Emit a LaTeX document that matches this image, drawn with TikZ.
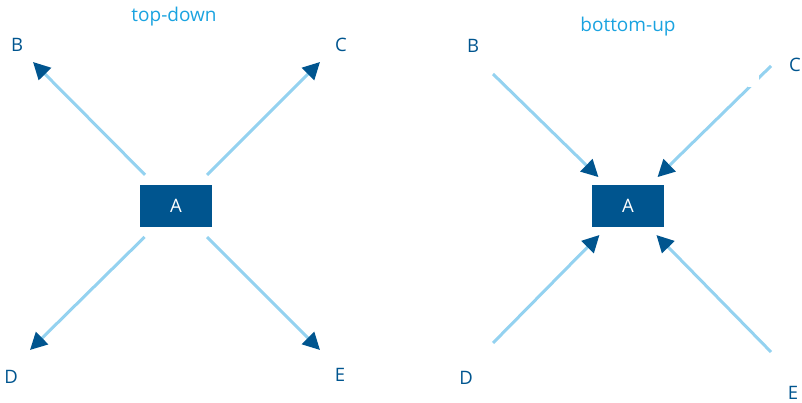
\documentclass[tikz,border=0pt]{standalone}
\usepackage{fontspec}
\setmainfont{Open Sans}
\usetikzlibrary{arrows.meta}
\definecolor{dblue}{HTML}{00558F}
\definecolor{lblue}{HTML}{94D2F0}
\definecolor{cyan2}{HTML}{1AA3E0}
\begin{document}
\begin{tikzpicture}[x=1pt,y=1pt,
  lab/.style={text=dblue,font=\fontsize{18.5}{22}\selectfont,inner sep=0pt},
  ttl/.style={text=cyan2,font=\fontsize{19}{22}\selectfont,inner sep=0pt},
  box/.style={fill=dblue,text=white,minimum width=72pt,minimum height=42pt,inner sep=0pt,font=\fontsize{18.5}{22}\selectfont},
  arr/.style={draw=lblue,line width=3pt,-{Triangle[length=17pt,width=17pt,color=dblue]}}]
\useasboundingbox (0,0) rectangle (802,403);
% left panel
\node[ttl] (t1) at (174,386) {top-down};
\node[box] (A1) at (176,197) {A};
\node[lab] (B1) at (17,358) {B};
\node[lab] (C1) at (341,358) {C};
\node[lab] (D1) at (11,26) {D};
\node[lab] (E1) at (340,28) {E};
\coordinate (tB) at (33,341);
\coordinate (tC) at (320,341);
\coordinate (tD) at (30,53);
\coordinate (tE) at (320,53);
\draw[arr,shorten <=14pt] (A1) -- (tB);
\draw[arr,shorten <=14pt] (A1) -- (tC);
\draw[arr,shorten <=14pt] (A1) -- (tD);
\draw[arr,shorten <=14pt] (A1) -- (tE);
% right panel
\node[ttl] (t2) at (628,376) {bottom-up};
\node[box] (A2) at (628,197) {A};
\node[lab] (B2) at (473,357) {B};
\node[lab] (C2) at (795,338) {C};
\node[lab] (D2) at (466,25) {D};
\node[lab] (E2) at (793,10) {E};
\coordinate (sB) at (493,329);
\coordinate (sC) at (771,337);
\coordinate (sD) at (493,60);
\coordinate (sE) at (771,51);
\draw[arr,shorten >=11pt] (sB) -- (A2);
\draw[arr,shorten >=11pt] (sC) -- (A2);
\draw[arr,shorten >=11pt] (sD) -- (A2);
\draw[arr,shorten >=11pt] (sE) -- (A2);
\fill[white] (748,316) rectangle (759,329);
\end{tikzpicture}
\end{document}
